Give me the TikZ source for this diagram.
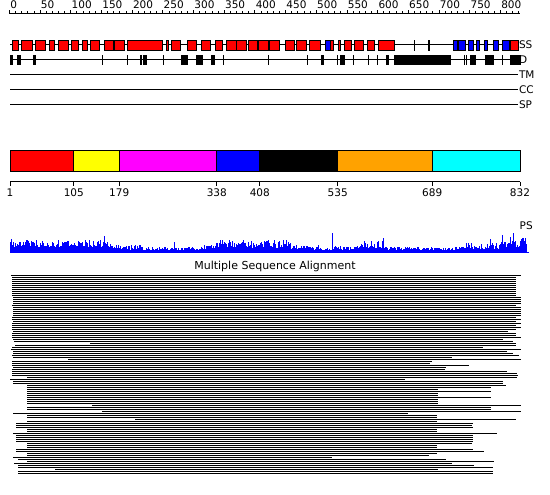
\documentclass[tikz,border=0pt]{standalone}
\usepackage{fontspec}
\setmainfont{DejaVu Sans}
\definecolor{ssred}{RGB}{255,0,0}
\definecolor{ssblue}{RGB}{0,0,255}
\definecolor{domred}{RGB}{255,0,0}
\definecolor{domyellow}{RGB}{255,255,0}
\definecolor{dommagenta}{RGB}{255,0,255}
\definecolor{domblue}{RGB}{0,0,255}
\definecolor{domorange}{RGB}{255,162,0}
\definecolor{domcyan}{RGB}{0,255,255}
\definecolor{psblue}{RGB}{0,0,255}
\begin{document}
\begin{tikzpicture}[
  x=1pt,y=-1pt,
  declare function={seqx(\p)=10+(\p-1)*0.613718;},
  lbl/.style={font=\fontsize{10.5}{12}\selectfont,inner sep=0.5pt},
  trackline/.style={draw=black,line width=1pt},
  ssbox/.style={draw=black,line width=.9pt},
  dombox/.style={draw=black,line width=.9pt},
  rulerline/.style={draw=black,line width=1pt},
  alnline/.style={fill=black}
]
  \useasboundingbox (0,0) rectangle (550,495);

  % ruler along the sequence
  \draw[rulerline] ({seqx(0)},14) -- ({seqx(832)},14);
  \foreach \p in {0,10,...,830}
    {\draw[line width=.8pt] ({seqx(\p)},14) -- ++(0,-2.5);}
  \foreach \p in {0,50,...,800}
    {\draw[line width=.8pt] ({seqx(\p)},14) -- ++(0,-4)
       node[lbl,anchor=south west] (r\p) {\p};}

  % feature tracks
  \foreach \y/\t in {45/SS,60/D,75/TM,90/CC,105/SP}
    {\draw[trackline] (10,\y) -- (518,\y)
       node[lbl,anchor=west] (t\t) {\t};}

  % secondary structure
  \foreach \a/\b/\c in {12/18/ssred,21/32/ssred,35/45/ssred,49/54/ssred,
      58/68/ssred,71/78/ssred,82/87/ssred,90/99/ssred,104/113/ssred,
      114/124/ssred,127/162/ssred,166/168/ssred,171/180/ssred,187/196/ssred,
      201/210/ssred,215/222/ssred,226/236/ssred,236/246/ssred,248/257/ssred,
      258/268/ssred,269/279/ssred,285/294/ssred,296/306/ssred,309/320/ssred,
      325/330/ssblue,330/333/ssred,338/340/ssred,344/351/ssred,354/363/ssred,
      367/374/ssred,378/394/ssred,428/429/ssred,453/457/ssblue,
      458/465/ssblue,468/473/ssblue,476/479/ssblue,484/487/ssblue,
      493/498/ssblue,502/509/ssblue,510/518/ssred}
    {\filldraw[ssbox,fill=\c] (\a,40.5) rectangle (\b,50.5);}
  \fill (413.5,40) rectangle (414.5,51);

  % disorder
  \foreach \a/\b in {10/13,17/21,33/35.5,101.5/102.5,126.5/127.5,140/141.5,
      142.5/146.5,162.5/163.5,181/187.5,196/202.5,211/215,222.5/223.5,
      268/269,306.5/307.5,321/323.5,337/338,340/344.5,352.5/353.5,
      367.5/368.5,376.5/377.5,386/389,393.5/450.5,463.5/464.5,465.5/466.5,
      470/476,485/493.5,501.5/502.5,510/520.5}
    {\fill (\a,55) rectangle (\b,65);}

  % domain bar
  \foreach \a/\b/\c in {1/105/domred,105/179/domyellow,179/338/dommagenta,
      338/408/domblue,408/535/black,535/689/domorange,689/832/domcyan}
    {\filldraw[dombox,fill=\c] ({seqx(\a)},150) rectangle ({seqx(\b)},171);}
  \draw[rulerline] ({seqx(1)},182) -- ({seqx(832)},182);
  \foreach \p in {1,105,179,338,408,535,689,832}
    {\draw[line width=.8pt] ({seqx(\p)},182) -- ++(0,4.5)
       node[lbl,anchor=north,yshift=-1pt] (b\p) {\p};}

  % profile
  \pgfmathsetseed{11}
  \foreach \a/\b/\h in {10/105/10,106/112/9,113/140/5.5,141/200/4,
      201/215/5.5,216/290/9.5,291/320/5.5,321/331/3.5,333/360/5,361/385/8.5,
      386/460/4,461/500/7,501/526/11.5}
    {\foreach \x in {\a,...,\b}
      {\pgfmathsetmacro\psh{\h*(0.45+0.85*rnd)}
       \fill[psblue] (\x,252) rectangle (\x+1,252-\psh);}}
  \foreach \x/\h in {104/16,174/10,332/19,383/14,490/13,502/17,513/19,525/14}
    {\fill[psblue] (\x,252) rectangle (\x+1,252-\h);}
  \draw[psblue,line width=1pt] (10,252) -- (529,252);
  \node[lbl,anchor=west] (ps) at (519,226) {PS};

  % alignment
  \node[lbl,font=\fontsize{11}{12}\selectfont] (msa) at (275,266)
    {Multiple Sequence Alignment};
  \foreach \s/\e [count=\i from 0] in {11/521,12/516,12/516,12/516,12/516,
      12/516,12/516,12/516,12/516,12/516,12/516,13/521,13/521,13/521,13/521,
      12/516,13/521,13/521,13/521,13/521,13/521,12/516,12/521,13/516,12/521,
      12/516,12/521,12/516,13/508,12/516,12/516,12/521,13/503,14/513,90/516,
      15/516,12/483,11/521,13/507,13/513,12/519,13/452,68/521,12/432,12/430,
      12/469,13/446,12/445,12/507,12/517,12/518,27/517,10/405,13/503,13/503,
      27/506,27/491,27/438,27/491,27/438,27/438,27/491,27/438,27/438,27/438,
      92/521,27/491,27/491,102/521,13/408,27/437,27/437,135/516,27/437,
      16/473,16/472,16/473,27/437,27/437,13/497,16/473,16/473,16/473,16/473,
      27/472,27/437,27/437,16/473,16/484,27/437,27/429,13/332,18/446,27/494,
      14/452,18/474,18/493,55/438,18/493,18/493}
    {\fill[alnline] (\s,275+2*\i) rectangle (\e,276+2*\i);}
\end{tikzpicture}
\end{document}
